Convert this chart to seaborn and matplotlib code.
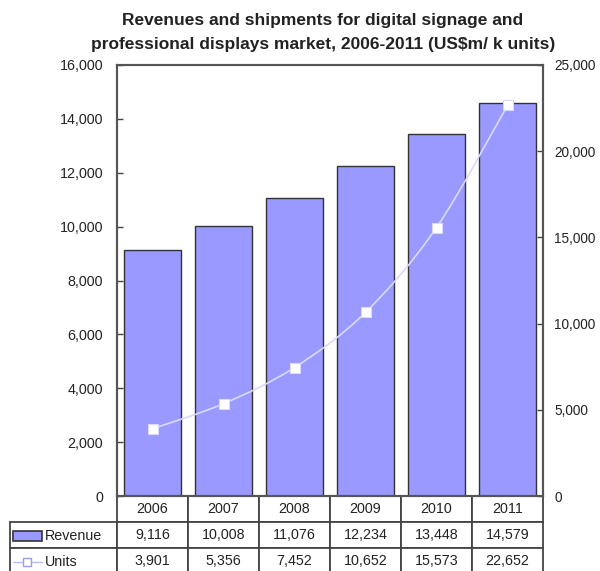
import matplotlib
matplotlib.use("Agg")
import matplotlib.pyplot as plt
import seaborn as sns
import pandas as pd
from matplotlib.path import Path
from matplotlib.patches import PathPatch, Rectangle
from matplotlib.lines import Line2D
from matplotlib.ticker import FuncFormatter

years = ["2006", "2007", "2008", "2009", "2010", "2011"]
revenue = [9116, 10008, 11076, 12234, 13448, 14579]
units = [3901, 5356, 7452, 10652, 15573, 22652]

title_lines = ["Revenues and shipments for digital signage and",
               "professional displays market, 2006-2011 (US$m/ k units)"]

BAR_COLOR = "#9999FF"
EDGE = "#333333"
LINE_COLOR = "#D9D9FF"

sns.set_theme(style="white")
plt.rcParams["font.family"] = ["Liberation Sans", "DejaVu Sans"]

df = pd.DataFrame({"year": years, "revenue": revenue, "units": units})

W, H = 600, 571
fig = plt.figure(figsize=(W / 100, H / 100), dpi=100)
ax = fig.add_axes([117 / W, 1 - 496 / H, 426 / W, 431 / H])

sns.barplot(data=df, x="year", y="revenue", color=BAR_COLOR, saturation=1,
            edgecolor=EDGE, linewidth=1.0, width=0.8, ax=ax)
ax.set_xlim(-0.5, 5.5)
ax.set_ylim(0, 16000)
ax.set_yticks(range(0, 16001, 2000))
fmt = FuncFormatter(lambda v, p: f"{int(v):,}")
ax.yaxis.set_major_formatter(fmt)
ax.set_xlabel("")
ax.set_ylabel("")
ax.tick_params(axis="x", bottom=False, labelbottom=False)
ax.tick_params(axis="y", direction="in", length=4, width=1, color="#444444",
               labelsize=10.3, pad=10, left=True, labelcolor="#222222")

ax2 = ax.twinx()
ax2.set_ylim(0, 25000)
ax2.set_yticks(range(0, 25001, 5000))
ax2.yaxis.set_major_formatter(fmt)
ax2.tick_params(axis="y", direction="in", length=4, width=1, color="#444444",
                labelsize=9.8, pad=8, right=True, labelcolor="#222222")

# smoothed line (Bezier through the points, like the spreadsheet smoothing)
xs = list(range(len(units)))
pts = list(zip(xs, units))
verts = [pts[0]]
codes = [Path.MOVETO]
for i in range(len(pts) - 1):
    p0 = pts[i - 1] if i > 0 else pts[i]
    p1 = pts[i]
    p2 = pts[i + 1]
    p3 = pts[i + 2] if i + 2 < len(pts) else pts[i + 1]
    c1 = (p1[0] + (p2[0] - p0[0]) / 6, p1[1] + (p2[1] - p0[1]) / 6)
    c2 = (p2[0] - (p3[0] - p1[0]) / 6, p2[1] - (p3[1] - p1[1]) / 6)
    verts += [c1, c2, p2]
    codes += [Path.CURVE4] * 3
ax2.add_patch(PathPatch(Path(verts, codes), fill=False, edgecolor=LINE_COLOR, lw=1.2))
sns.scatterplot(x=xs, y=units, marker="s", s=45, color="white",
                edgecolor=LINE_COLOR, linewidth=0.8, ax=ax2, zorder=5)
ax2.set_ylabel("")

for a in (ax, ax2):
    for s in a.spines.values():
        s.set_color("#555555")
        s.set_linewidth(1.5)

# data table under the plot
row_h = 26 / 431
lab_w = 107 / 426
tbl = ax.table(cellText=[[""] + [f"{v:,}" for v in revenue],
                         [""] + [f"{v:,}" for v in units]],
               colLabels=[""] + years, cellLoc="center",
               colWidths=[lab_w] + [1 / 6] * 6,
               bbox=[-lab_w, -3 * row_h, 1 + lab_w, 3 * row_h])
tbl.auto_set_font_size(False)
tbl.set_fontsize(10.3)
for (r, c), cell in tbl.get_celld().items():
    cell.set_edgecolor("#444444")
    cell.set_linewidth(1.3)
    cell.set_facecolor("white")
    cell.get_text().set_color("#222222")
corner = tbl[0, 0]
corner.visible_edges = "open"
corner.set_facecolor("none")

# legend keys in the row-label cells
tf = fig.transFigure
def fx(px):
    return px / W
def fy(py):
    return 1 - py / H

fig.patches.append(Rectangle((fx(13), fy(541)), fx(29), 10 / H, transform=tf,
                             facecolor=BAR_COLOR, edgecolor=EDGE, lw=1.2))
fig.text(fx(45), fy(536), "Revenue", fontsize=10.3, va="center", ha="left", color="#222222")
fig.lines.append(Line2D([fx(13), fx(42)], [fy(562), fy(562)], transform=tf,
                        color="#BBBBFF", lw=1))
fig.lines.append(Line2D([fx(27.5)], [fy(562)], transform=tf, marker="s",
                        markersize=6, markerfacecolor="white",
                        markeredgecolor="#9999FF", lw=0))
fig.text(fx(45), fy(562), "Units", fontsize=10.3, va="center", ha="left", color="#222222")

for line, ypx in zip(title_lines, [20, 45]):
    fig.text(323 / W, fy(ypx), line, ha="center", va="center", fontsize=12.5,
             fontweight="bold", color="#222222")

fig.savefig("out.png", dpi=100)
